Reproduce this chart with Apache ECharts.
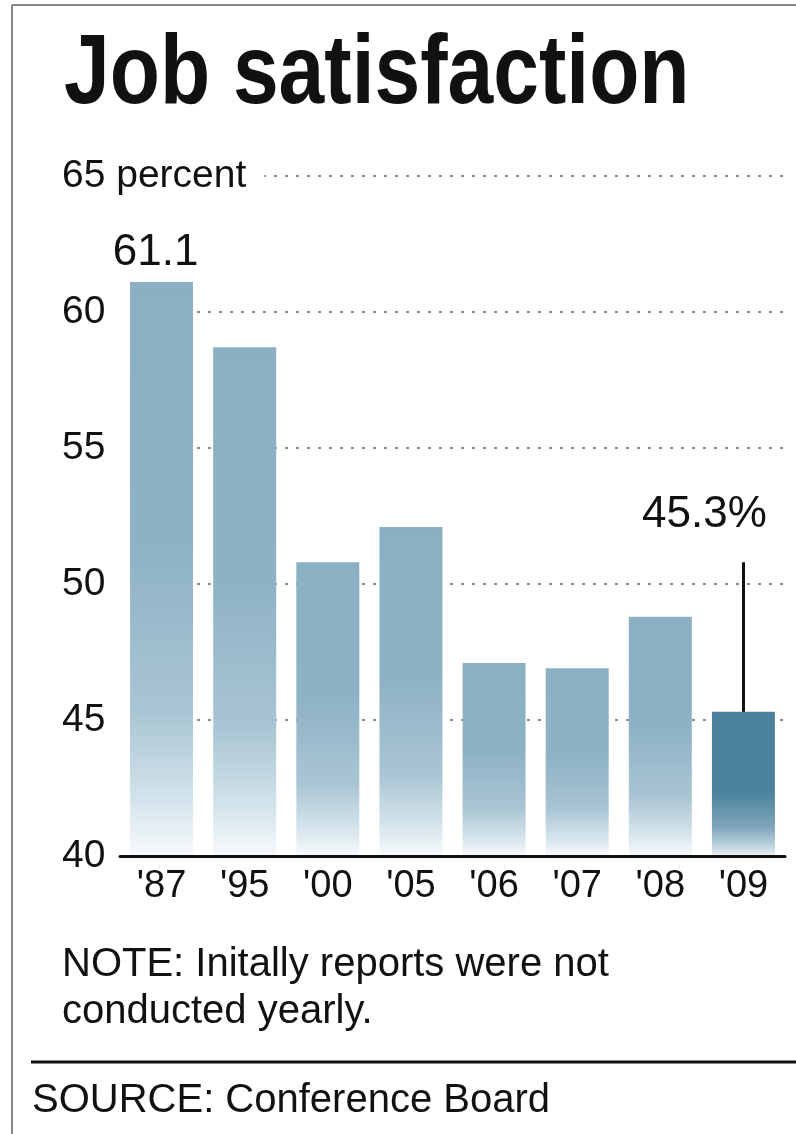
<!DOCTYPE html>
<html>
<head>
<meta charset="utf-8">
<title>Job satisfaction</title>
<script src="https://cdn.jsdelivr.net/npm/echarts@6/dist/echarts.min.js"></script>
<style>
html, body { margin: 0; padding: 0; background: #fff; }
#chart { width: 796px; height: 1134px; }
</style>
</head>
<body>
<div id="chart"></div>
<script>
const years = ["'87", "'95", "'00", "'05", "'06", "'07", "'08", "'09"]
const satisfaction = [61.1, 58.7, 50.8, 52.1, 47.1, 46.9, 48.8, 45.3]
const yTicks = [40, 45, 50, 55, 60, 65]
const leaderTop = 50.8

const font = '"Liberation Sans", Arial, sans-serif'

const fade = (stops) => new echarts.graphic.LinearGradient(0, 0, 0, 1,
  stops.map(s => ({ offset: s[0], color: s[1] })))

const lightBar = fade([[0, '#8bafc3'], [0.45, '#8db1c5'], [0.75, '#a9c5d3'], [0.9, '#d3e3eb'], [1, '#f7fafc']])
const darkBar = fade([[0, '#4a829d'], [0.55, '#4a829d'], [0.8, '#7ea6ba'], [0.93, '#bdd2dd'], [1, '#eef4f7']])

const last = years.length - 1

const formatData = (data) => {
  let ret = []
  data.forEach((v, i) => {
    let item = { value: v, itemStyle: { color: i === last ? darkBar : lightBar } }
    if (i === 0) {
      item.label = { show: true, position: 'top', formatter: '{c}', offset: [-6, -2] }
    }
    if (i === last) {
      item.label = { show: true, position: 'top', formatter: '{c}%', offset: [-39, -170] }
    }
    ret.push(item)
  })
  return ret
}

const myChart = echarts.init(document.getElementById('chart'))

const options = {
  animation: false,
  title: [
    {
      text: 'NOTE: Initally reports were not\nconducted yearly.',
      left: 57,
      top: 936,
      textStyle: { fontFamily: font, fontWeight: 'normal', fontSize: 40, lineHeight: 47, color: '#111' }
    },
    {
      text: 'SOURCE: Conference Board',
      left: 27,
      top: 1076,
      textStyle: { fontFamily: font, fontWeight: 'normal', fontSize: 40, color: '#111' }
    }
  ],
  graphic: [
    // narrow bold headline: no condensed face is installed, so squeeze a bold one
    {
      type: 'text',
      x: 64,
      y: 26,
      scaleX: 0.83,
      style: {
        text: 'Job satisfaction',
        font: 'bold 99px "Liberation Sans", Arial, sans-serif',
        fill: '#111',
        textVerticalAlign: 'top'
      }
    },
    { type: 'line', shape: { x1: 12, y1: 5, x2: 12, y2: 1134 }, style: { stroke: '#888', lineWidth: 2 } },
    { type: 'line', shape: { x1: 12, y1: 5, x2: 796, y2: 5 }, style: { stroke: '#888', lineWidth: 2 } },
    { type: 'line', shape: { x1: 31, y1: 1062, x2: 796, y2: 1062 }, style: { stroke: '#111', lineWidth: 3 } }
  ],
  grid: {
    left: 120,
    right: 11,
    top: 176,
    bottom: 278
  },
  xAxis: {
    type: 'category',
    data: years,
    z: 4,
    axisTick: { show: false },
    axisLine: { lineStyle: { color: '#111', width: 3 } },
    axisLabel: { color: '#111', fontFamily: font, fontSize: 38, margin: 12 }
  },
  yAxis: [
    {
      type: 'value',
      min: yTicks[0],
      max: yTicks[yTicks.length - 1],
      interval: yTicks[1] - yTicks[0],
      z: 0,
      axisLine: { show: false },
      axisTick: { show: false },
      axisLabel: { show: false },
      splitLine: { lineStyle: { color: '#8a8a8a', width: 2, type: [3, 8] } }
    },
    {
      type: 'value',
      position: 'left',
      min: yTicks[0],
      max: yTicks[yTicks.length - 1],
      interval: yTicks[1] - yTicks[0],
      z: 3,
      axisLine: { show: false },
      axisTick: { show: false },
      splitLine: { show: false },
      axisLabel: {
        align: 'left',
        margin: 58,
        color: '#111',
        fontFamily: font,
        fontSize: 39,
        backgroundColor: '#fff',
        padding: [0, 18, 0, 0],
        formatter: (v) => v === yTicks[yTicks.length - 1] ? v + ' percent' : v
      }
    }
  ],
  series: [
    {
      type: 'bar',
      barWidth: 63,
      data: formatData(satisfaction),
      label: { color: '#111', fontFamily: font, fontSize: 44 },
      markLine: {
        silent: true,
        symbol: 'none',
        label: { show: false },
        lineStyle: { color: '#111', width: 3, type: 'solid' },
        data: [[
          { coord: [years[last], satisfaction[last]] },
          { coord: [years[last], leaderTop] }
        ]]
      }
    }
  ]
}

myChart.setOption(options)
</script>
</body>
</html>
